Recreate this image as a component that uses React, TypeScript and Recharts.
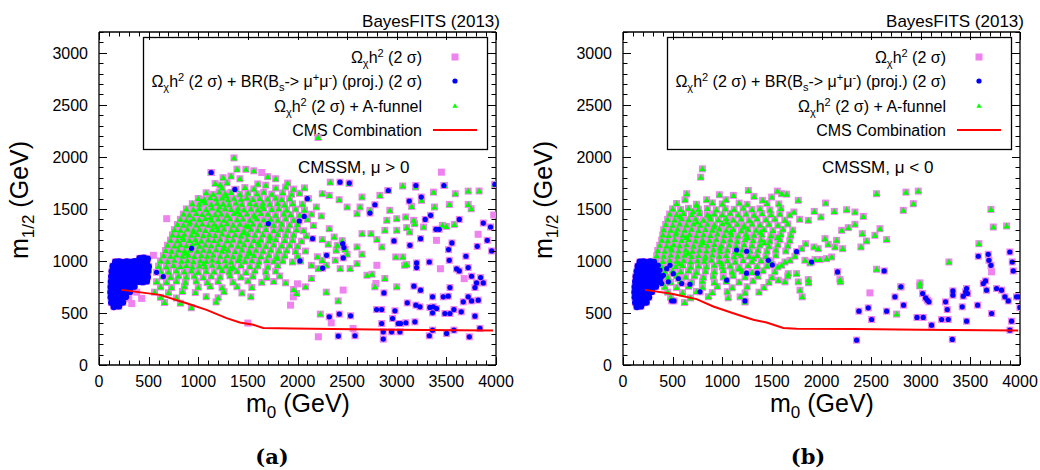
import React from 'react'
import { ScatterChart, Scatter, XAxis, YAxis, ReferenceLine } from 'recharts'

type Pt = [number, number]

const xTicks = [0, 100, 200, 300, 400, 500, 600, 700, 800, 900, 1000, 1100, 1200, 1300, 1400, 1500, 1600, 1700, 1800, 1900, 2000, 2100, 2200, 2300, 2400, 2500, 2600, 2700, 2800, 2900, 3000, 3100, 3200, 3300, 3400, 3500, 3600, 3700, 3800, 3900, 4000]
const yTicks = [0, 100, 200, 300, 400, 500, 600, 700, 800, 900, 1000, 1100, 1200, 1300, 1400, 1500, 1600, 1700, 1800, 1900, 2000, 2100, 2200, 2300, 2400, 2500, 2600, 2700, 2800, 2900, 3000, 3100, 3200]

// CMS combination exclusion line
const cmsA: Pt[] = [[228, 722], [614, 674], [883, 594], [1084, 530], [1285, 450], [1419, 409], [1554, 387], [1654, 355], [1956, 351], [2963, 339], [3970, 332]]
const cmsB: Pt[] = [[221, 722], [490, 684], [742, 633], [910, 562], [1111, 498], [1313, 435], [1447, 409], [1615, 355], [1749, 348], [2320, 345], [2992, 339], [3982, 332]]

// mu > 0 : BR(Bs->mumu) points, low-m0 blob
const blobA: Pt[] = [
  [150, 560], [200, 565], [125, 600], [165, 605], [205, 598], [240, 602],
  [120, 650], [155, 648], [195, 652], [235, 646], [270, 655],
  [118, 700], [150, 704], [190, 698], [230, 702], [270, 696], [310, 705],
  [120, 750], [155, 746], [195, 754], [235, 748], [275, 752], [315, 745], [355, 755],
  [122, 800], [160, 804], [200, 796], [240, 802], [280, 798], [320, 805], [360, 796], [400, 802], [440, 798], [480, 806],
  [125, 850], [165, 846], [205, 854], [245, 848], [285, 852], [325, 845], [365, 855], [405, 848], [445, 852], [490, 846],
  [130, 900], [170, 904], [210, 896], [250, 902], [290, 898], [330, 905], [370, 896], [410, 902], [450, 898], [495, 904],
  [140, 950], [180, 946], [220, 954], [260, 948], [300, 952], [340, 945], [380, 955], [420, 948], [460, 952], [500, 946],
  [165, 990], [200, 994], [240, 986], [280, 992], [320, 988], [360, 995], [400, 990], [440, 994], [480, 988],
  [410, 1025], [450, 1030], [490, 1020],
]
const blueA: Pt[] = [
  [580, 891], [648, 850], [933, 1121], [1130, 1850], [1369, 1687],
  [2428, 1757], [2522, 1748], [2915, 1677], [3193, 1725], [3475, 1725], [3989, 1735], [2099, 1598], [2780, 1540],
  [2730, 1460], [3126, 1575], [3247, 1614], [3341, 1438], [3287, 1399], [3630, 1399], [3872, 1364], [3945, 1326],
  [2018, 1384], [2068, 1428], [1706, 1358], [2152, 1214], [2972, 1192], [3240, 1214], [3395, 1304], [3428, 1304],
  [3556, 1173], [3522, 1109], [3133, 1150], [3811, 1140], [3912, 1198], [3956, 1096], [2455, 1166], [2468, 1128],
  [2293, 1054], [2461, 1029], [2025, 1000], [2253, 930], [3200, 981], [3200, 936], [3328, 990], [3697, 1045],
  [3529, 1006], [3603, 923], [3630, 904], [3720, 936], [3754, 853], [3845, 840], [3804, 789], [3872, 789],
  [3788, 744], [3173, 757], [3240, 719], [3536, 744], [2871, 693], [3361, 655], [3469, 655], [3519, 661],
  [3720, 655], [3754, 616], [3821, 623], [3670, 607], [3106, 597], [3193, 575], [3234, 559], [3334, 553],
  [3368, 559], [3401, 543], [3361, 501], [3485, 495], [3536, 495], [3576, 533], [3650, 511], [3788, 469],
  [2797, 533], [2848, 533], [2982, 521], [2320, 463], [2421, 489], [2535, 473], [2958, 447], [2848, 399],
  [3015, 399], [3039, 399], [3092, 406], [3183, 415], [2864, 319], [2948, 319], [3032, 319], [2864, 249],
  [3361, 335], [3502, 303], [3576, 335], [3838, 351], [3328, 281], [3731, 271], [2411, 278], [2579, 281],
]
const greenA: Pt[] = [
  [1360, 1990], [1390, 1882], [1480, 1880], [1560, 1866], [1130, 1850], [1250, 1800], [1330, 1815], [1420, 1790], [1700, 1810], [1780, 1790],
  [1170, 1745], [1220, 1730], [1290, 1752], [1600, 1740], [1680, 1728], [1900, 1748], [2330, 1757], [2520, 1745],
  [1240, 1700], [1380, 1688], [1470, 1705], [1560, 1692], [1780, 1700], [1880, 1710], [1960, 1690], [2070, 1702], [2910, 1677], [3060, 1720], [3190, 1710], [3480, 1725], [3720, 1671], [3830, 1672], [3990, 1735],
  [1080, 1655], [1150, 1640], [1210, 1662], [1270, 1645], [1330, 1658], [1420, 1640], [1500, 1652], [1590, 1645], [1660, 1660], [1740, 1642], [1850, 1655], [1940, 1640], [2020, 1650], [2250, 1646], [2320, 1630], [2650, 1614], [2830, 1630], [3370, 1661], [3590, 1646],
  [1000, 1600], [1060, 1590], [1120, 1608], [1180, 1595], [1240, 1605], [1300, 1588], [1360, 1602], [1430, 1592], [1490, 1606], [1550, 1590], [1620, 1600], [1700, 1595], [1780, 1605], [1840, 1590], [1920, 1598], [2110, 1598], [2420, 1588], [3250, 1582],
  [940, 1550], [1010, 1545], [1070, 1558], [1130, 1542], [1190, 1555], [1250, 1548], [1310, 1540], [1380, 1556], [1440, 1545], [1520, 1552], [1580, 1540], [1650, 1555], [1720, 1545], [1800, 1552], [1870, 1538], [1950, 1550], [2050, 1545], [2190, 1518], [2500, 1518], [2630, 1518], [3150, 1524], [3380, 1518], [3530, 1543], [3720, 1543],
  [880, 1500], [950, 1492], [1010, 1505], [1080, 1495], [1140, 1508], [1200, 1490], [1270, 1502], [1330, 1494], [1400, 1506], [1460, 1492], [1530, 1500], [1600, 1490], [1660, 1505], [1740, 1495], [1810, 1502], [1890, 1490], [1980, 1498], [2070, 1488], [2600, 1454], [2730, 1486], [2930, 1486], [3750, 1502],
  [850, 1450], [910, 1442], [980, 1455], [1040, 1446], [1100, 1458], [1170, 1444], [1230, 1452], [1290, 1440], [1360, 1455], [1420, 1446], [1490, 1452], [1560, 1440], [1630, 1455], [1700, 1448], [1780, 1440], [1860, 1452], [1930, 1445], [2020, 1440], [2140, 1450], [2240, 1432],
  [820, 1400], [880, 1392], [950, 1405], [1010, 1396], [1070, 1408], [1130, 1394], [1200, 1402], [1260, 1390], [1320, 1405], [1390, 1396], [1450, 1402], [1520, 1392], [1590, 1405], [1660, 1395], [1730, 1400], [1800, 1390], [1880, 1405], [1960, 1392], [2100, 1400], [2900, 1390], [3000, 1406], [3090, 1422], [3170, 1390],
  [790, 1350], [850, 1344], [910, 1356], [980, 1346], [1040, 1355], [1100, 1342], [1160, 1352], [1230, 1345], [1290, 1358], [1350, 1344], [1420, 1352], [1480, 1340], [1550, 1355], [1620, 1346], [1690, 1352], [1760, 1342], [1840, 1355], [1920, 1346], [2000, 1350], [2160, 1340], [3460, 1342], [3500, 1332], [3580, 1351],
  [760, 1300], [820, 1294], [890, 1306], [950, 1295], [1010, 1305], [1070, 1292], [1140, 1302], [1200, 1296], [1260, 1308], [1330, 1294], [1390, 1302], [1460, 1290], [1530, 1305], [1600, 1296], [1680, 1302], [1760, 1292], [1830, 1305], [1900, 1296], [1990, 1300], [2060, 1290], [2320, 1310], [2880, 1294], [3000, 1294], [3100, 1320], [3180, 1358], [3270, 1326],
  [740, 1250], [800, 1244], [860, 1256], [930, 1246], [990, 1255], [1050, 1242], [1110, 1252], [1170, 1245], [1240, 1258], [1300, 1244], [1370, 1252], [1430, 1240], [1500, 1255], [1570, 1246], [1650, 1252], [1720, 1242], [1800, 1255], [1880, 1246], [1960, 1250], [2090, 1240], [2370, 1230], [2650, 1262], [2740, 1262], [3130, 1278],
  [720, 1200], [790, 1194], [850, 1206], [910, 1196], [970, 1205], [1030, 1192], [1100, 1202], [1160, 1196], [1220, 1208], [1290, 1194], [1350, 1202], [1420, 1190], [1490, 1205], [1560, 1196], [1630, 1202], [1710, 1192], [1780, 1205], [1870, 1196], [1950, 1200], [2040, 1190], [2250, 1205], [2450, 1195], [2800, 1205],
  [690, 1150], [760, 1144], [820, 1156], [880, 1146], [940, 1155], [1010, 1142], [1070, 1152], [1130, 1145], [1200, 1158], [1260, 1144], [1330, 1152], [1400, 1140], [1460, 1155], [1530, 1146], [1610, 1152], [1680, 1142], [1760, 1155], [1840, 1146], [1920, 1150], [2000, 1140], [2310, 1160], [2400, 1150], [2600, 1134], [2850, 1134],
  [670, 1100], [730, 1094], [800, 1106], [860, 1096], [920, 1105], [990, 1092], [1050, 1102], [1110, 1096], [1180, 1108], [1240, 1094], [1300, 1102], [1370, 1090], [1440, 1105], [1510, 1096], [1580, 1102], [1650, 1092], [1730, 1105], [1810, 1096], [1890, 1100], [1980, 1090], [2080, 1095], [2390, 1102], [2480, 1110],
  [650, 1050], [720, 1044], [780, 1056], [840, 1046], [900, 1055], [960, 1042], [1030, 1052], [1090, 1045], [1150, 1058], [1220, 1044], [1290, 1052], [1350, 1040], [1420, 1055], [1490, 1046], [1560, 1052], [1630, 1042], [1710, 1055], [1790, 1046], [1870, 1050], [2000, 1045], [2200, 1040], [2500, 1064], [2650, 1064], [2990, 1038], [3060, 1038],
  [620, 1000], [690, 994], [760, 1006], [830, 996], [890, 1005], [950, 992], [1020, 1002], [1080, 996], [1140, 1008], [1200, 994], [1270, 1002], [1330, 990], [1400, 1005], [1470, 996], [1540, 1002], [1610, 992], [1690, 1005], [1760, 996], [1850, 1000], [1950, 990], [2030, 1000], [2250, 1005], [2380, 1006], [2600, 974], [3080, 958],
  [600, 950], [680, 944], [750, 956], [820, 946], [880, 955], [940, 942], [1010, 952], [1070, 945], [1140, 958], [1210, 944], [1280, 952], [1350, 940], [1430, 955], [1520, 946], [1600, 952], [1700, 942], [1800, 955], [2140, 958], [2210, 926], [2290, 958], [2530, 926], [3100, 965],
  [620, 900], [700, 894], [780, 906], [860, 896], [930, 905], [1000, 892], [1080, 902], [1160, 896], [1240, 908], [1310, 894], [1390, 902], [1480, 890], [1570, 905], [1680, 896], [1780, 902], [2430, 926], [2750, 872],
  [640, 850], [720, 844], [800, 856], [880, 846], [960, 855], [1050, 842], [1130, 852], [1220, 845], [1320, 858], [1430, 844], [1550, 852], [1690, 840], [1820, 855], [2140, 831], [2700, 862], [2880, 831],
  [580, 800], [680, 794], [780, 806], [870, 796], [980, 805], [1090, 792], [1200, 802], [1350, 796], [1500, 808], [1640, 794], [1760, 802], [1880, 790],
  [620, 750], [730, 744], [860, 756], [1000, 746], [1120, 755], [1240, 742], [1390, 752], [1540, 745], [2080, 751], [2780, 751], [3000, 751],
  [560, 700], [700, 694], [840, 706], [970, 696], [1260, 705], [1440, 692], [1960, 725], [2290, 700],
  [620, 650], [780, 644], [1080, 656], [1200, 646], [1530, 655], [2410, 616], [1990, 687],
  [660, 600], [820, 594], [1180, 606], [930, 550], [2230, 489], [2207, 2186],
  // extra readings in the dense core
  [1035, 1575], [1215, 1520], [1395, 1475], [1575, 1425], [915, 1375], [1185, 1325], [1455, 1270], [1725, 1220],
  [985, 1175], [1255, 1120], [1525, 1075], [1795, 1025], [1055, 975], [1325, 925], [1125, 1420], [1645, 1525],
  [845, 1225], [1605, 1175], [1415, 1020], [875, 1075], [1715, 1375], [1285, 1625], [955, 1280], [1505, 1330],
]
const pinkOnlyA: Pt[] = [
  [1640, 1850], [3450, 1853], [3820, 1256], [3400, 1198], [2800, 958], [3440, 925], [3680, 830], [2790, 783],
  [1930, 575], [2340, 405], [2210, 271], [2560, 351], [682, 1406], [548, 1054], [430, 640], [330, 590],
  [1500, 403], [3977, 1441], [1958, 655], [2000, 780], [2460, 720], [300, 640], [380, 700],
]

// mu < 0
const blobB: Pt[] = [
  [140, 560], [180, 565], [125, 600], [160, 604], [200, 597], [235, 603],
  [120, 650], [155, 646], [190, 654], [225, 648], [260, 652],
  [118, 700], [150, 704], [185, 697], [220, 703], [255, 698], [290, 705],
  [120, 750], [155, 746], [190, 754], [225, 748], [260, 752], [295, 745], [330, 755],
  [125, 800], [160, 804], [195, 796], [230, 802], [265, 798], [300, 805], [335, 796], [370, 802],
  [130, 850], [165, 846], [200, 854], [235, 848], [270, 852], [305, 845], [340, 855], [380, 848],
  [140, 900], [175, 904], [210, 896], [245, 902], [280, 898], [315, 905], [350, 896],
  [150, 950], [185, 946], [220, 954], [255, 948], [290, 952], [325, 945],
  [170, 990], [205, 994], [240, 986], [275, 992], [310, 988],
]
const blueB: Pt[] = [
  [373, 911], [407, 862], [440, 926], [339, 831], [457, 799], [507, 878], [558, 831], [390, 783], [306, 751], [356, 958],
  [474, 958], [490, 617], [514, 616], [591, 783], [675, 776], [776, 703], [1045, 815], [1145, 1105], [1245, 882], [1353, 882],
  [1504, 962], [1464, 1006], [1229, 616], [1246, 1093], [1749, 1089], [1900, 990], [2162, 894], [2800, 751],
  [2354, 239], [2377, 517], [2471, 549], [2505, 437], [2632, 904], [2656, 517], [2740, 655], [2827, 575], [2962, 457],
  [3025, 457], [3019, 687], [3049, 645], [3066, 623], [3082, 607], [3109, 383], [3210, 437], [3277, 437], [3267, 533],
  [3250, 607], [3324, 671], [3324, 712], [3318, 246], [3418, 559], [3428, 661], [3452, 703], [3462, 735], [3472, 687],
  [3462, 421], [3573, 575], [3580, 1045], [3630, 783], [3653, 808], [3663, 719], [3680, 1064], [3687, 1006], [3707, 958],
  [3714, 495], [3764, 735], [3814, 719], [3848, 655], [3882, 616], [3898, 1086], [3922, 990], [3932, 904], [3965, 655],
  [3989, 655], [3915, 421], [3898, 335], [3999, 553],
]
const greenB: Pt[] = [
  [800, 1885], [783, 1805], [642, 1646], [625, 1588], [742, 1534], [843, 1588], [971, 1636], [1038, 1588], [1112, 1630], [1263, 1677],
  [1320, 1620], [1407, 1582], [1498, 1614], [1555, 1671], [1598, 1646], [1766, 1582], [1648, 1642], [2041, 1556], [2129, 1476], [2253, 1492],
  [2337, 1470], [2421, 1428], [1927, 1476], [1722, 1470], [1994, 1422], [1867, 1390], [2203, 1294], [2270, 1320], [2337, 1352], [2411, 1262],
  [2589, 1310], [2538, 1246], [2656, 1205], [2454, 1192], [2397, 1134], [2213, 1118], [2136, 1134], [2068, 1160], [2152, 1198], [2035, 1214],
  [1967, 1118], [1924, 1134], [1840, 1166], [1800, 1118], [1984, 1013], [2051, 1022], [2102, 1038], [1934, 1013], [1884, 981], [1833, 1006],
  [1732, 1045], [1682, 1006], [1632, 990], [1598, 958], [2162, 894], [2186, 821], [1867, 821], [1665, 878], [1749, 878], [1766, 799],
  [1783, 719], [1806, 655], [1632, 799], [1565, 815],
  [2555, 1646], [2851, 1661], [2975, 1671], [2925, 1550], [2824, 1486], [2555, 920], [2800, 751], [2992, 789], [2757, 489], [3284, 990],
  [3586, 1166], [3707, 1495], [3731, 1326], [3865, 1336],
  [540, 1552], [740, 1545], [900, 1558], [1000, 1548], [1170, 1556], [1250, 1544], [1450, 1552], [1570, 1548],
  [500, 1500], [580, 1494], [660, 1506], [760, 1496], [850, 1505], [940, 1492], [1030, 1502], [1120, 1496], [1210, 1508], [1300, 1494], [1380, 1502], [1480, 1490], [1590, 1505],
  [470, 1450], [540, 1444], [610, 1456], [690, 1446], [770, 1455], [850, 1442], [920, 1452], [1000, 1445], [1080, 1458], [1160, 1444], [1240, 1452], [1320, 1440], [1400, 1455], [1490, 1446], [1580, 1452], [1680, 1442],
  [450, 1400], [520, 1394], [590, 1406], [660, 1396], [730, 1405], [810, 1392], [880, 1402], [960, 1396], [1040, 1408], [1110, 1394], [1190, 1402], [1270, 1390], [1350, 1405], [1440, 1396], [1530, 1402], [1630, 1392], [1780, 1400],
  [430, 1350], [500, 1344], [570, 1356], [640, 1346], [710, 1355], [780, 1342], [850, 1352], [920, 1345], [1000, 1358], [1070, 1344], [1150, 1352], [1220, 1340], [1300, 1355], [1380, 1346], [1470, 1352], [1560, 1342], [1660, 1355],
  [410, 1300], [480, 1294], [550, 1306], [620, 1296], [690, 1305], [760, 1292], [830, 1302], [900, 1296], [970, 1308], [1040, 1294], [1110, 1302], [1190, 1290], [1260, 1305], [1340, 1296], [1420, 1302], [1510, 1292], [1610, 1305], [1710, 1296],
  [400, 1250], [460, 1244], [530, 1256], [600, 1246], [670, 1255], [740, 1242], [810, 1252], [880, 1245], [950, 1258], [1020, 1244], [1090, 1252], [1160, 1240], [1240, 1255], [1320, 1246], [1400, 1252], [1490, 1242], [1590, 1255], [1690, 1246],
  [390, 1200], [450, 1194], [520, 1206], [590, 1196], [660, 1205], [730, 1192], [800, 1202], [870, 1196], [940, 1208], [1010, 1194], [1080, 1202], [1150, 1190], [1230, 1205], [1310, 1196], [1390, 1202], [1480, 1192], [1580, 1205], [1680, 1196],
  [370, 1150], [440, 1144], [510, 1156], [570, 1146], [640, 1155], [710, 1142], [780, 1152], [850, 1145], [920, 1158], [990, 1144], [1070, 1152], [1140, 1140], [1220, 1155], [1300, 1146], [1380, 1152], [1470, 1142], [1560, 1155], [1660, 1146],
  [350, 1100], [420, 1094], [490, 1106], [560, 1096], [630, 1105], [700, 1092], [770, 1102], [840, 1096], [910, 1108], [980, 1094], [1050, 1102], [1130, 1090], [1200, 1105], [1280, 1096], [1360, 1102], [1450, 1092], [1540, 1105], [1640, 1096],
  [340, 1050], [410, 1044], [480, 1056], [550, 1046], [620, 1055], [690, 1042], [760, 1052], [830, 1045], [900, 1058], [970, 1044], [1040, 1052], [1120, 1040], [1190, 1055], [1270, 1046], [1350, 1052], [1440, 1042], [1540, 1055],
  [330, 1000], [400, 994], [470, 1006], [540, 996], [610, 1005], [680, 992], [750, 1002], [820, 996], [890, 1008], [970, 994], [1050, 1002], [1130, 990], [1210, 1005], [1300, 996], [1390, 1002], [1490, 992],
  [320, 950], [390, 944], [460, 956], [530, 946], [600, 955], [680, 942], [760, 952], [840, 945], [920, 958], [1000, 944], [1080, 952], [1170, 940], [1260, 955], [1350, 946], [1450, 952], [1560, 942],
  [330, 900], [420, 894], [500, 906], [580, 896], [660, 905], [740, 892], [830, 902], [920, 896], [1010, 908], [1100, 894], [1200, 902], [1300, 890], [1410, 905], [1530, 896],
  [350, 850], [450, 844], [540, 856], [630, 846], [720, 855], [810, 842], [910, 852], [1010, 845], [1110, 858], [1230, 844], [1360, 852], [1500, 840], [1660, 855],
  [380, 800], [480, 794], [580, 806], [690, 796], [800, 805], [920, 792], [1040, 802], [1170, 796], [1310, 808], [1470, 794], [1870, 790], [2190, 800],
  [420, 750], [540, 744], [660, 756], [800, 746], [950, 755], [1100, 742], [1250, 752], [1420, 745], [2990, 760],
  [450, 700], [600, 694], [740, 706], [900, 696], [1050, 705], [1230, 692], [1370, 700],
  [480, 650], [680, 644], [860, 656], [1060, 646], [1180, 655], [620, 600], [1230, 605],
  // extra readings in the dense core
  [575, 1425], [745, 1375], [915, 1325], [1085, 1275], [1255, 1225], [1425, 1175], [635, 1225], [805, 1175],
  [975, 1125], [1145, 1075], [1315, 1025], [485, 1125], [655, 1075], [825, 1025], [995, 975], [1165, 925],
  [705, 1475], [875, 1425], [1045, 1375], [1215, 1325], [535, 1275], [1385, 1275], [1555, 1225], [565, 975],
]
const pinkOnlyB: Pt[] = [[2488, 693], [3714, 895]]

const FONT = '"Liberation Sans", Arial, Helvetica, sans-serif'
const X_MAX = 4000
const Y_MAX = 3200
// plot box inside each 516x470 panel
const PL = 99
const PR = 496
const PT = 32
const PB = 365

const toObj = (pts: Pt[]) => pts.map(([x, y]) => ({ x, y }))
const px = (v: number) => PL + (v / X_MAX) * (PR - PL)
const py = (v: number) => PB - (v / Y_MAX) * (PB - PT)

function XLabel(props: any) {
  const { x, y, payload } = props
  if (payload.value % 500 !== 0) return <g />
  return (
    <text x={x} y={y + 22} textAnchor="middle" fontSize={16} fontFamily={FONT} fill="#000">
      {payload.value}
    </text>
  )
}

function YLabel(props: any) {
  const { x, y, payload } = props
  if (payload.value % 500 !== 0) return <g />
  return (
    <text x={x - 11} y={y + 6} textAnchor="end" fontSize={16} fontFamily={FONT} fill="#000">
      {payload.value}
    </text>
  )
}

const pinkSquare = (p: any) => <rect x={p.cx - 3.5} y={p.cy - 3.5} width={7} height={7} fill="#ee82ee" />
const greenTri = (p: any) => (
  <polygon points={`${p.cx},${p.cy - 3.4} ${p.cx - 3.2},${p.cy + 2.5} ${p.cx + 3.2},${p.cy + 2.5}`} fill="#00ff00" />
)
const blueDot = (p: any) => <circle cx={p.cx} cy={p.cy} r={2.6} fill="#0000ff" />
const blobDot = (p: any) => <circle cx={p.cx} cy={p.cy} r={3.4} fill="#0000ff" />
const noDot = () => <g />

function TickOverlay() {
  let d = ''
  xTicks.forEach((v) => {
    const len = v % 500 === 0 ? 8 : 4.5
    const x = Math.round(px(v)) + 0.5
    d += `M${x},${PB}V${PB - len}M${x},${PT}V${PT + len}`
  })
  yTicks.forEach((v) => {
    const len = v % 500 === 0 ? 8 : 4.5
    const y = Math.round(py(v)) + 0.5
    d += `M${PL},${y}H${PL + len}M${PR},${y}H${PR - len}`
  })
  return (
    <svg width={516} height={470} style={{ position: 'absolute', left: 0, top: 0, pointerEvents: 'none' }}>
      <path d={d} stroke="#000" strokeWidth={1} fill="none" />
    </svg>
  )
}

function Omega() {
  return (
    <>
      Ω<tspan dy={4} fontSize={11}>χ</tspan>
      <tspan dy={-4}>h</tspan>
      <tspan dy={-6} fontSize={11}>2</tspan>
      <tspan dy={6}> (2 σ)</tspan>
    </>
  )
}

interface PanelProps {
  left: number
  sign: string
  caption: string
  captionX: number
  green: Pt[]
  blue: Pt[]
  blob: Pt[]
  pinkOnly: Pt[]
  cms: Pt[]
}

function Panel({ left, sign, caption, captionX, green, blue, blob, pinkOnly, cms }: PanelProps) {
  const pink = toObj([...pinkOnly, ...blob, ...blue, ...green])
  const frame = { stroke: '#000', strokeWidth: 1.3, ifOverflow: 'visible' as const }
  return (
    <div style={{ position: 'absolute', left, top: 0, width: 516, height: 470 }}>
      <svg width={516} height={470} style={{ position: 'absolute', left: 0, top: 0 }} fontFamily={FONT}>
        <text x={500} y={27} textAnchor="end" fontSize={17}>BayesFITS (2013)</text>
        <rect x={143.5} y={37.5} width={344} height={112} fill="#fff" stroke="#000" strokeWidth={1.3} />
        <text x={422} y={63} textAnchor="end" fontSize={16}><Omega /></text>
        <text x={422} y={87} textAnchor="end" fontSize={16}>
          <Omega /> + BR(B<tspan dy={4} fontSize={11}>s</tspan>
          <tspan dy={-4}>-&gt; μ</tspan>
          <tspan dy={-6} fontSize={11}>+</tspan>
          <tspan dy={6}>μ</tspan>
          <tspan dy={-6} fontSize={11}>-</tspan>
          <tspan dy={6}>) (proj.) (2 σ)</tspan>
        </text>
        <text x={422} y={112} textAnchor="end" fontSize={16}><Omega /> + A-funnel</text>
        <text x={422} y={136} textAnchor="end" fontSize={16}>CMS Combination</text>
        <rect x={451.5} y={53.5} width={7} height={7} fill="#ee82ee" />
        <circle cx={455} cy={81} r={2.6} fill="#0000ff" />
        <polygon points="455,103.2 452.4,107.8 457.6,107.8" fill="#00ff00" />
        <line x1={433} y1={130} x2={477} y2={130} stroke="#ff0000" strokeWidth={2} />
        <text x={298} y={173} fontSize={17}>CMSSM, μ {sign} 0</text>
        <text x={298} y={412} textAnchor="middle" fontSize={25}>
          m<tspan dy={6} fontSize={17}>0</tspan>
          <tspan dy={-6}> (GeV)</tspan>
        </text>
        <text x={28} y={200} textAnchor="middle" fontSize={25} transform="rotate(-90 28 200)">
          m<tspan dy={6} fontSize={17}>1/2</tspan>
          <tspan dy={-6}> (GeV)</tspan>
        </text>
        <text x={captionX} y={464} textAnchor="middle" fontSize={21} fontWeight="bold" fontFamily='"DejaVu Serif", "Liberation Serif", serif'>
          {caption}
        </text>
      </svg>
      <div style={{ position: 'absolute', left: 0, top: 0 }}>
        <ScatterChart width={516} height={470} margin={{ top: 32, right: 20, bottom: 75, left: 39 }}>
          <XAxis
            type="number"
            dataKey="x"
            domain={[0, X_MAX]}
            ticks={xTicks}
            interval={0}
            height={30}
            tickSize={0}
            tickMargin={0}
            tickLine={false}
            axisLine={false}
            tick={<XLabel />}
            allowDataOverflow
          />
          <YAxis
            type="number"
            dataKey="y"
            domain={[0, Y_MAX]}
            ticks={yTicks}
            interval={0}
            width={60}
            tickSize={0}
            tickMargin={0}
            tickLine={false}
            axisLine={false}
            tick={<YLabel />}
            allowDataOverflow
          />
          <Scatter data={pink} shape={pinkSquare} isAnimationActive={false} />
          <Scatter data={toObj(green)} shape={greenTri} isAnimationActive={false} />
          <Scatter data={toObj(blob)} shape={blobDot} isAnimationActive={false} />
          <Scatter data={toObj(blue)} shape={blueDot} isAnimationActive={false} />
          <Scatter data={toObj(cms)} shape={noDot} line={{ stroke: '#ff0000', strokeWidth: 2 }} isAnimationActive={false} />
          <ReferenceLine segment={[{ x: 0, y: 0 }, { x: X_MAX, y: 0 }]} {...frame} />
          <ReferenceLine segment={[{ x: 0, y: Y_MAX }, { x: X_MAX, y: Y_MAX }]} {...frame} />
          <ReferenceLine segment={[{ x: 0, y: 0 }, { x: 0, y: Y_MAX }]} {...frame} />
          <ReferenceLine segment={[{ x: X_MAX, y: 0 }, { x: X_MAX, y: Y_MAX }]} {...frame} />
        </ScatterChart>
      </div>
      <TickOverlay />
    </div>
  )
}

export default function App() {
  return (
    <div style={{ position: 'absolute', left: 0, top: 0, width: 1040, height: 470, background: '#fff', overflow: 'hidden' }}>
      <Panel left={0} sign=">" caption="(a)" captionX={272} green={greenA} blue={blueA} blob={blobA} pinkOnly={pinkOnlyA} cms={cmsA} />
      <Panel left={524} sign="<" caption="(b)" captionX={284} green={greenB} blue={blueB} blob={blobB} pinkOnly={pinkOnlyB} cms={cmsB} />
    </div>
  )
}
